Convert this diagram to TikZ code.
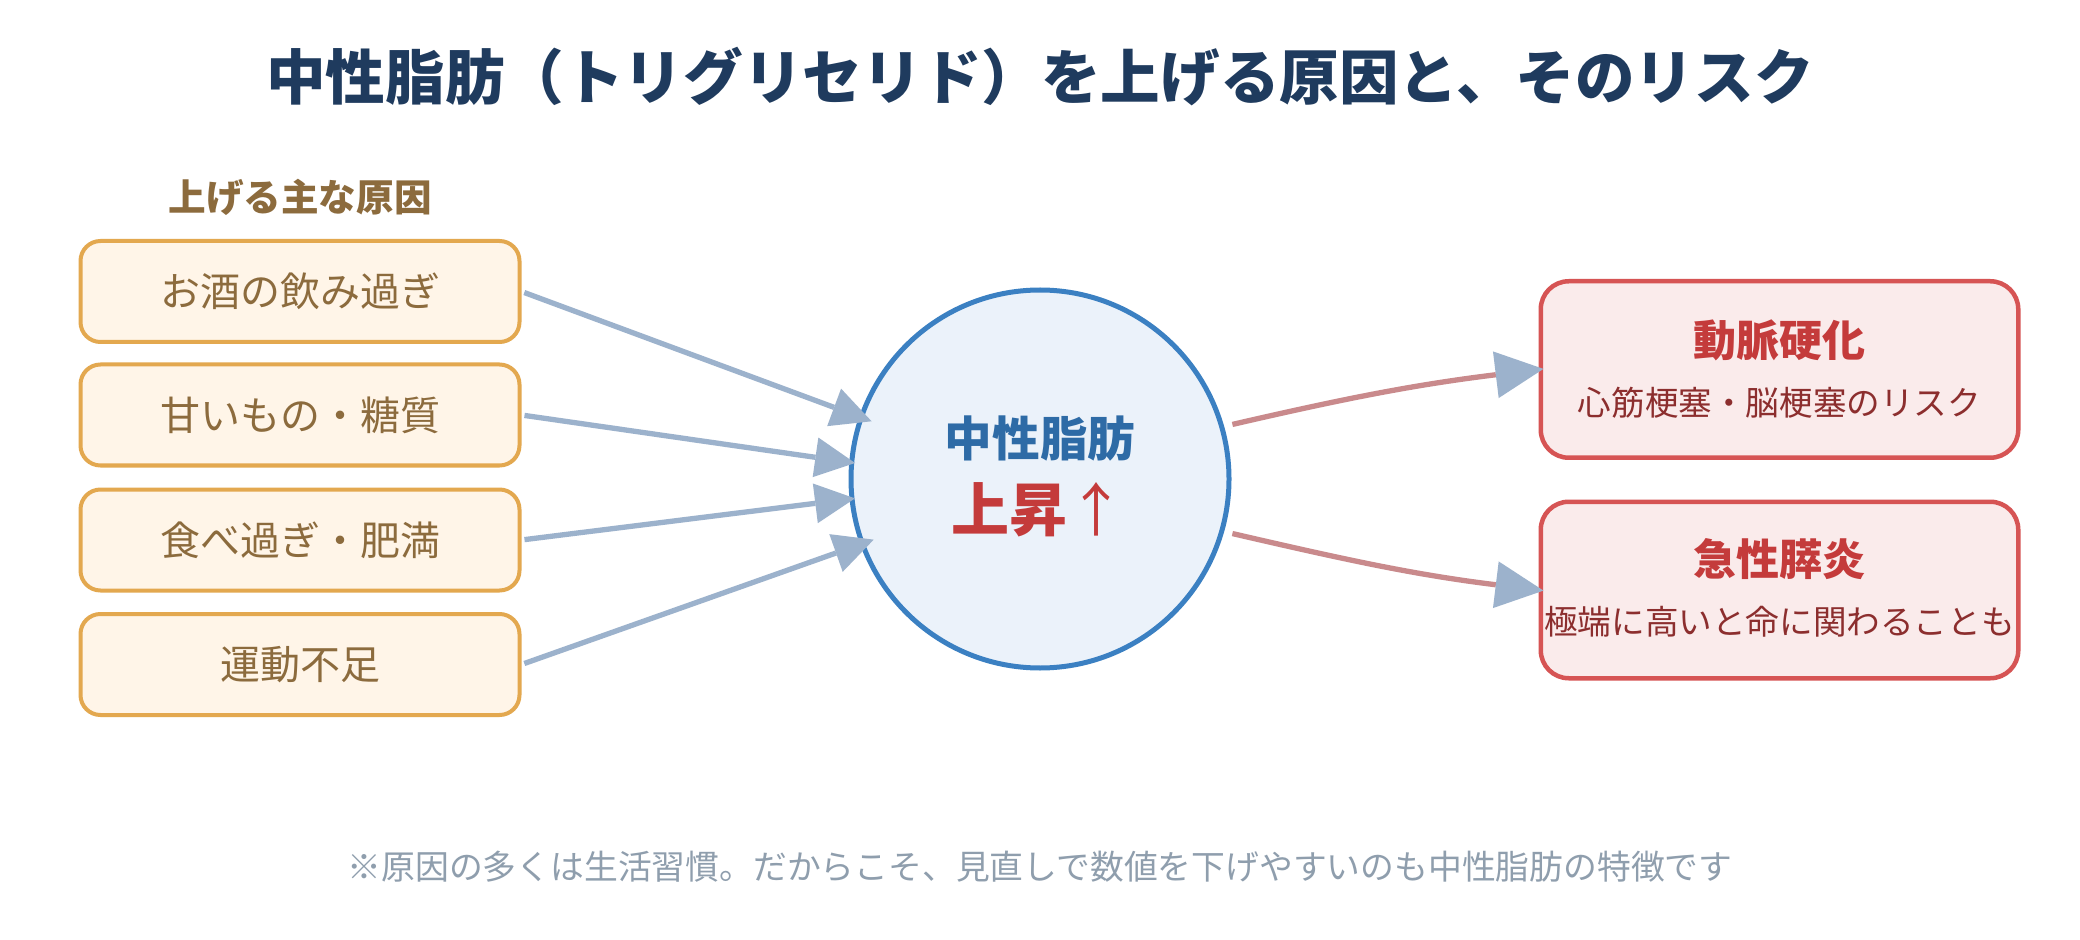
\documentclass[tikz,border=0pt]{standalone}
\usepackage{fontspec}
\setmainfont{Noto Sans CJK JP}
\usepackage{tikz}
\usetikzlibrary{arrows.meta}
\definecolor{mnavy}{rgb}{0.12, 0.23, 0.37}
\definecolor{mbrown}{rgb}{0.55, 0.42, 0.24}
\definecolor{mgold}{rgb}{0.89, 0.66, 0.31}
\definecolor{mcream}{rgb}{1, 0.96, 0.91}
\definecolor{mblue}{rgb}{0.23, 0.5, 0.76}
\definecolor{mpale}{rgb}{0.92, 0.95, 0.98}
\definecolor{mdeep}{rgb}{0.18, 0.42, 0.65}
\definecolor{mred}{rgb}{0.77, 0.23, 0.23}
\definecolor{mrose}{rgb}{0.84, 0.33, 0.33}
\definecolor{mpink}{rgb}{0.98, 0.92, 0.92}
\definecolor{mmaroon}{rgb}{0.55, 0.18, 0.18}
\definecolor{mgray}{rgb}{0.61, 0.7, 0.8}
\definecolor{mdusty}{rgb}{0.79, 0.54, 0.55}
\definecolor{mslate}{rgb}{0.56, 0.62, 0.68}

\begin{document}
\begin{tikzpicture}[x=0.5pt, y=-0.5pt,
    cause/.style={draw=mgold, fill=mcream, line width=2pt, rounded corners=10pt,
      minimum width=219.5pt, minimum height=50.5pt, text=mbrown,
      font=\fontsize{20}{21}\selectfont},
    risk/.style={draw=mrose, fill=mpink, line width=2.25pt, rounded corners=14pt,
      minimum width=238.75pt, minimum height=88.25pt},
    feed/.style={mgray, line width=2.65pt,
      -{Triangle[length=20pt, width=20pt, line width=0pt]}},
    lead/.style={mdusty, line width=2.65pt,
      -{Triangle[length=24pt, width=23.5pt, line width=0pt, color=mgray]}}]
    \fill [white] (0, 0) rectangle (2080, 940);
    \useasboundingbox (0, 0) rectangle (2080, 940);

    \node [mnavy, font=\fontsize{29.8}{30}\selectfont\bfseries] (title) at (1040, 77)
      {中性脂肪（トリグリセリド）を上げる原因と、そのリスク};

    % causes on the left
    \node [mbrown, font=\fontsize{18.8}{20}\selectfont\bfseries] (causehead) at (300, 197) {上げる主な原因};
    \node [cause] (alcohol) at (300, 291.5) {お酒の飲み過ぎ};
    \node [cause] (sweets) at (300, 415) {甘いもの・糖質};
    \node [cause] (overeat) at (300, 540) {食べ過ぎ・肥満};
    \node [cause] (exercise) at (300, 664.5) {運動不足};

    % the central circle
    \node [circle, draw=mblue, fill=mpale, line width=2.5pt, minimum size=189pt,
      inner sep=0pt, outer sep=0pt] (fat) at (1040, 479) {};
    \node [mdeep, font=\fontsize{23.8}{24}\selectfont\bfseries] (fatname) at (1040, 438.5) {中性脂肪};
    \node [mred, font=\fontsize{29}{30}\selectfont\bfseries] (rise) at (1038, 510) {上昇{\mdseries ↑}};

    % risks on the right
    \node [risk] (sclerosis) at (1779.5, 369.5) {};
    \node [risk] (pancreatitis) at (1779.5, 590) {};
    \node [mred, font=\fontsize{21.5}{22}\selectfont\bfseries] (sclerosisname) at (1779.5, 340) {動脈硬化};
    \node [mmaroon, font=\fontsize{16.8}{18}\selectfont] (sclerosisnote) at (1779.5, 403) {心筋梗塞・脳梗塞のリスク};
    \node [mred, font=\fontsize{21.5}{22}\selectfont\bfseries] (pancreatitisname) at (1779.5, 559) {急性膵炎};
    \node [mmaroon, font=\fontsize{16.8}{18}\selectfont] (pancreatitisnote) at (1779.5, 622) {極端に高いと命に関わることも};

    \draw [feed, shorten <=1.5pt, shorten >=-5.5pt] (alcohol.east) -- (fat.161.5);
    \draw [feed, shorten <=1.5pt, shorten >=-1.7pt] (sweets.east) -- (fat.175.3);
    \draw [feed, shorten <=1.5pt, shorten >=-1.5pt] (overeat.east) -- (fat.186.2);
    \draw [feed, shorten <=1.5pt, shorten >=-6pt] (exercise.east) -- (fat.200.4);

    \draw [lead, shorten <=5.5pt, shorten >=-2.5pt] (fat.16) to [out=13, in=187] (sclerosis.west);
    \draw [lead, shorten <=5.5pt, shorten >=-2.5pt] (fat.-16) to [out=-13, in=173] (pancreatitis.west);

    \node [mslate, font=\fontsize{16.9}{18}\selectfont] (footnote) at (1040, 867)
      {※原因の多くは生活習慣。だからこそ、見直しで数値を下げやすいのも中性脂肪の特徴です};
  \end{tikzpicture}
\end{document}
